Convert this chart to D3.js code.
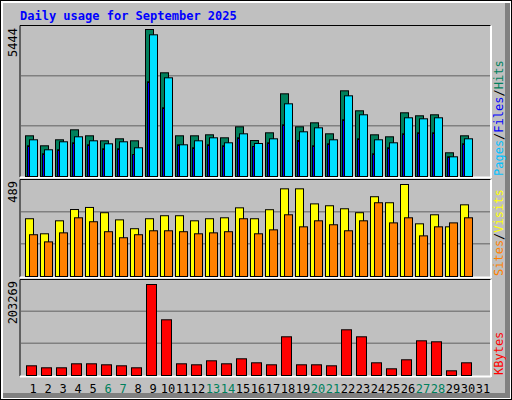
<!DOCTYPE html>
<html><head><meta charset="utf-8">
<script src="https://cdn.jsdelivr.net/npm/d3@7"></script>
<style>body{margin:0;background:#fff}</style>
</head><body>
<script>
var days = d3.range(1, 31);
var weekend = [6, 7, 13, 14, 20, 21, 27, 28];
var hits = [1507,1137,1359,1729,1507,1322,1396,1322,5444,3840,1507,1507,1544,1433,1840,1333,1618,3062,1840,1988,1581,3173,2433,1544,1470,2359,2248,2285,878,1507];
var files = [1359,989,1285,1470,1322,1211,1285,1063,5247,3655,1174,1322,1433,1248,1581,1222,1396,2692,1655,1803,1359,2988,2285,1359,1248,2174,2137,2174,729,1396];
var pages = [1137,841,989,1248,1174,1026,1026,815,3507,2544,1174,1063,1174,1137,1433,1111,1248,1914,1333,1137,1211,2100,1396,841,1063,1581,1618,1618,729,1211];
var visits = [307,227,296,356,367,339,301,254,307,323,323,296,307,312,365,307,355,466,466,386,376,360,339,424,392,489,280,328,264,381];
var sites = [222,184,232,312,291,238,206,222,243,243,238,227,232,238,307,227,248,328,264,296,275,243,296,392,285,312,216,264,285,312];
var kbytes = [21667,17200,17200,26134,26134,23900,21667,17200,203269,124417,26134,23900,32835,26134,37303,28368,23900,86444,23900,23900,21667,102080,86444,28368,14966,35069,77509,75276,10498,28368];
var maxLabels = ["5444", "489", "203269"];

var svg = d3.select("body").append("svg").attr("width", 512).attr("height", 400)
  .style("font-family", "DejaVu Sans Mono, monospace");

svg.append("rect").attr("width", 512).attr("height", 400).attr("fill", "#000");
svg.append("rect").attr("x", 1).attr("y", 1).attr("width", 510).attr("height", 398).attr("fill", "#fff");
svg.append("rect").attr("x", 3).attr("y", 3).attr("width", 507).attr("height", 395).attr("fill", "#808080");
svg.append("rect").attr("x", 3).attr("y", 3).attr("width", 502).attr("height", 390).attr("fill", "#c0c0c0");

svg.append("text").attr("x", 20).attr("y", 20).attr("fill", "#0000ff")
  .attr("font-weight", "bold").attr("font-size", 12).text("Daily usage for September 2025");

var x = d3.scaleLinear().domain([1, 31]).range([25, 475]);

function panel(top, bottom) {
  var g = svg.append("g");
  g.append("line").attr("x1", 20).attr("x2", 491).attr("y1", top).attr("y2", top).attr("stroke", "#000");
  g.append("line").attr("x1", 20).attr("x2", 20).attr("y1", top).attr("y2", bottom + 1).attr("stroke", "#000");
  g.append("line").attr("x1", 20).attr("x2", 491).attr("y1", bottom + 1.5).attr("y2", bottom + 1.5).attr("stroke", "#fff").attr("stroke-width", 2);
  g.append("line").attr("x1", 491).attr("x2", 491).attr("y1", top).attr("y2", bottom + 2).attr("stroke", "#fff").attr("stroke-width", 2);
  var h = bottom - top;
  [1 / 3, 2 / 3].forEach(function (f) {
    g.append("line").attr("x1", 21).attr("x2", 490).attr("y1", bottom - h * f).attr("y2", bottom - h * f)
      .attr("stroke", "#808080").attr("stroke-width", 1.5);
  });
  return g;
}

function bars(g, data, y, dx, w, color) {
  g.selectAll(null).data(data).enter().append("rect")
    .attr("x", function (d, i) { return x(days[i]) + dx + 0.5; })
    .attr("y", function (d) { return y(d) + 0.5; })
    .attr("width", w)
    .attr("height", function (d) { return y(0) - y(d); })
    .attr("fill", color).attr("stroke", "#000").attr("stroke-width", 1);
}

// top panel
var g1 = panel(25.5, 176);
var y1 = d3.scaleLinear().domain([0, 5444]).range([176, 29]);
bars(g1, hits, y1, 0, 8, "#00805c");
bars(g1, pages, y1, 2, 2, "#0000ff");
bars(g1, files, y1, 4, 8, "#00e0ff");

// middle panel
var g2 = panel(179.5, 276);
var y2 = d3.scaleLinear().domain([0, 489]).range([276, 184]);
bars(g2, visits, y2, 0, 8, "#ffff00");
bars(g2, sites, y2, 4, 8, "#ff8000");

// bottom panel
var g3 = panel(279.5, 375);
var y3 = d3.scaleLinear().domain([0, 203269]).range([375, 284]);
bars(g3, kbytes, y3, 1, 10, "#ff0000");

// max labels
[[28, maxLabels[0]], [181, maxLabels[1]], [281, maxLabels[2]]].forEach(function (p) {
  svg.append("text").attr("transform", "translate(17," + p[0] + ") rotate(-90)")
    .attr("text-anchor", "end").attr("font-size", 12).attr("fill", "#000").text(p[1]);
});

// right legends
function legend(yb, parts) {
  var t = svg.append("text").attr("transform", "translate(503," + yb + ") rotate(-90)")
    .attr("font-size", 12);
  parts.forEach(function (p) { t.append("tspan").attr("fill", p[1]).text(p[0]); });
}
legend(176, [["Pages", "#00c0ff"], ["/", "#000"], ["Files", "#0000ff"], ["/", "#000"], ["Hits", "#00805c"]]);
legend(276, [["Sites", "#ff8000"], ["/", "#000"], ["Visits", "#ffff00"]]);
legend(375, [["KBytes", "#ff0000"]]);

// day labels
svg.selectAll(".day").data(d3.range(1, 32)).enter().append("text")
  .attr("x", function (d) { return x(d) + 8; })
  .attr("y", 393)
  .attr("text-anchor", "middle").attr("font-size", 12)
  .attr("fill", function (d) { return weekend.indexOf(d) >= 0 ? "#00805c" : "#000"; })
  .text(function (d) { return d; });
</script>
</body></html>
